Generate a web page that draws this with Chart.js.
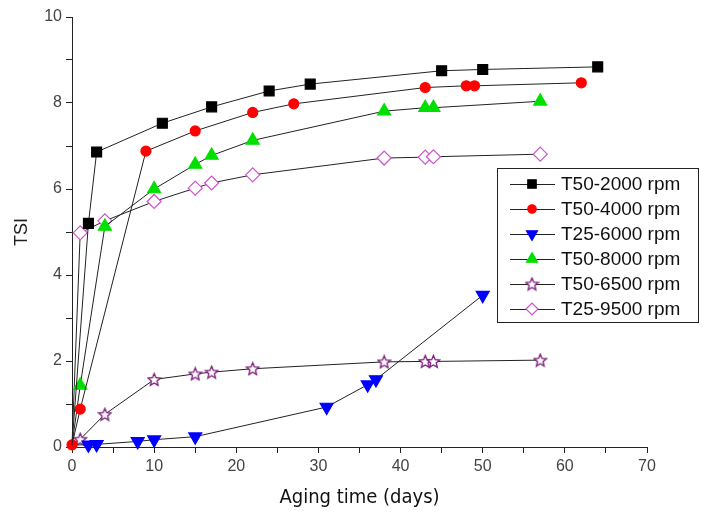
<!DOCTYPE html>
<html>
<head>
<meta charset="utf-8">
<script src="https://cdn.jsdelivr.net/npm/chart.js@4.4.0/dist/chart.umd.min.js"></script>
<style>
  html, body { margin: 0; padding: 0; background: #fff; }
  #wrap { width: 709px; height: 520px; }
</style>
</head>
<body>
<div id="wrap"><canvas id="tsiChart" width="709" height="520"></canvas></div>
<script>
// series labels
var seriesLabels = ['T50-2000 rpm', 'T50-4000 rpm', 'T25-6000 rpm', 'T50-8000 rpm', 'T50-6500 rpm', 'T25-9500 rpm'];

// aging days (x) per series
var days2000 = [0, 2, 3, 11, 17, 24, 29, 45, 50, 64];
var days4000 = [0, 1, 9, 15, 22, 27, 43, 48, 49, 62];
var days6000 = [0, 2, 3, 8, 10, 15, 31, 36, 37, 50];
var days8000 = [0, 1, 4, 10, 15, 17, 22, 38, 43, 44, 57];
var days6500 = [0, 1, 4, 10, 15, 17, 22, 38, 43, 44, 57];
var days9500 = [0, 1, 4, 10, 15, 17, 22, 38, 43, 44, 57];

// TSI values per series
var tsi2000 = [0.05, 5.2, 6.86, 7.53, 7.91, 8.28, 8.44, 8.75, 8.78, 8.84];
var tsi4000 = [0.05, 0.88, 6.88, 7.35, 7.78, 7.98, 8.36, 8.40, 8.40, 8.47];
var tsi6000 = [0.05, 0.05, 0.06, 0.13, 0.17, 0.24, 0.93, 1.45, 1.57, 3.53];
var tsi8000 = [0.05, 1.43, 5.13, 6.0, 6.57, 6.78, 7.13, 7.81, 7.89, 7.89, 8.04];
var tsi6500 = [0.05, 0.18, 0.76, 1.57, 1.70, 1.74, 1.82, 1.98, 1.99, 1.99, 2.02];
var tsi9500 = [0.05, 4.98, 5.26, 5.71, 6.02, 6.14, 6.33, 6.72, 6.74, 6.75, 6.81];

function pairs(xs, ys){
  return xs.map(function(x, i){ return {x: x, y: ys[i]}; });
}

// outlined five point star as a point image
function makeStar(size, color){
  var c = document.createElement('canvas');
  c.width = size; c.height = size;
  var g = c.getContext('2d');
  var cx = size / 2, cy = size / 2 + 0.5, R = size / 2 - 1, r = R * 0.45;
  g.beginPath();
  for (var i = 0; i < 10; i++) {
    var a = -Math.PI / 2 + i * Math.PI / 5;
    var rr = (i % 2) ? r : R;
    g.lineTo(cx + rr * Math.cos(a), cy + rr * Math.sin(a));
  }
  g.closePath();
  g.fillStyle = '#fff';
  g.fill();
  g.strokeStyle = color;
  g.lineWidth = 1.3;
  g.stroke();
  return c;
}
var starImg = makeStar(15, '#7a1a7a');

var lineCol = '#222';
var datasets = [
  {label: seriesLabels[0], data: pairs(days2000, tsi2000), pointStyle: 'rect', pointRadius: 7,
   backgroundColor: '#000', pointBorderColor: '#000', pointRotation: 0},
  {label: seriesLabels[1], data: pairs(days4000, tsi4000), pointStyle: 'circle', pointRadius: 5,
   backgroundColor: '#ff0000', pointBorderColor: '#ff0000', pointRotation: 0},
  {label: seriesLabels[2], data: pairs(days6000, tsi6000), pointStyle: 'triangle', pointRadius: 7.5,
   backgroundColor: '#0000ff', pointBorderColor: '#0000ff', pointRotation: 180},
  {label: seriesLabels[3], data: pairs(days8000, tsi8000), pointStyle: 'triangle', pointRadius: 7.5,
   backgroundColor: '#00e000', pointBorderColor: '#00e000', pointRotation: 0},
  {label: seriesLabels[4], data: pairs(days6500, tsi6500), pointStyle: starImg, pointRadius: 7,
   backgroundColor: '#fff', pointBorderColor: '#7a1a7a', pointRotation: 0},
  {label: seriesLabels[5], data: pairs(days9500, tsi9500), pointStyle: 'rectRot', pointRadius: 7,
   backgroundColor: '#fff', pointBorderColor: '#cc55cc', pointRotation: 0}
];
datasets.forEach(function(d, k){
  var r = d.pointRadius;
  d.borderColor = lineCol;
  d.borderWidth = 1;
  d.pointBackgroundColor = d.backgroundColor;
  d.pointBorderWidth = 1.2;
  // only the red series shows a marker at the origin
  d.pointRadius = function(c){ return (c.dataIndex === 0 && k !== 1) ? 0 : r; };
  d.legendRadius = r;
  d.tension = 0;
  d.fill = false;
  d.clip = false;
});

// boxed legend inside the plot, drawn with Chart's own point helper
var boxLegend = {
  id: 'boxLegend',
  afterDraw: function(chart){
    var ctx = chart.ctx;
    var x0 = 497, y0 = 168, w = 201, h = 154, rowH = 25;
    ctx.save();
    ctx.fillStyle = '#fff';
    ctx.fillRect(x0, y0, w, h);
    ctx.strokeStyle = '#222';
    ctx.lineWidth = 1;
    ctx.strokeRect(x0 + 0.5, y0 + 0.5, w, h);
    ctx.font = '19px "Liberation Sans", Arial, sans-serif';
    ctx.textBaseline = 'middle';
    chart.data.datasets.forEach(function(d, i){
      var y = y0 + 16 + i * rowH;
      ctx.strokeStyle = lineCol;
      ctx.lineWidth = 1;
      ctx.beginPath();
      ctx.moveTo(510, y + 0.5); ctx.lineTo(555, y + 0.5);
      ctx.stroke();
      ctx.fillStyle = d.pointBackgroundColor;
      ctx.strokeStyle = d.pointBorderColor;
      ctx.lineWidth = d.pointBorderWidth;
      Chart.helpers.drawPoint(ctx, {
        pointStyle: d.pointStyle,
        radius: d.legendRadius * 0.85,
        rotation: d.pointRotation,
        borderWidth: d.pointBorderWidth
      }, 532, y);
      ctx.fillStyle = '#111';
      ctx.fillText(d.label, 561, y + 1);
    });
    ctx.restore();
  }
};

var tickFont = {family: '"Liberation Sans", Arial, sans-serif', size: 16};
var ctx = document.getElementById('tsiChart').getContext('2d');
window.tsiChart = new Chart(ctx, {
  type: 'line',
  data: {datasets: datasets},
  options: {
    responsive: false,
    animation: false,
    layout: {padding: {top: 17, right: 62, left: 0, bottom: 0}},
    plugins: {
      legend: {display: false},
      tooltip: {enabled: false}
    },
    scales: {
      x: {
        type: 'linear',
        min: 0, max: 70,
        ticks: {
          stepSize: 5,
          color: '#444',
          font: tickFont,
          padding: 4,
          maxRotation: 0,
          callback: function(v){ return v % 10 === 0 ? v : ''; }
        },
        grid: {drawOnChartArea: false, tickLength: 6, tickColor: '#222'},
        border: {color: '#222', width: 1},
        title: {
          display: true,
          text: 'Aging time (days)',
          color: '#111',
          font: {family: '"DejaVu Sans Condensed", "Liberation Sans Narrow", Roboto, sans-serif', size: 20},
          padding: {top: 0, bottom: 10}
        },
        afterFit: function(scale){ scale.height = 73; }
      },
      y: {
        min: 0, max: 10,
        ticks: {
          stepSize: 1,
          color: '#444',
          font: tickFont,
          padding: 4,
          callback: function(v){ return v % 2 === 0 ? v : ''; }
        },
        grid: {drawOnChartArea: false, tickLength: 6, tickColor: '#222'},
        border: {color: '#222', width: 1},
        title: {
          display: true,
          text: 'TSI',
          color: '#222',
          font: {family: '"Liberation Sans", Arial, sans-serif', size: 18},
          padding: {top: 11, bottom: 0}
        },
        afterFit: function(scale){ scale.width = 72; }
      }
    }
  },
  plugins: [boxLegend]
});
</script>
</body>
</html>
